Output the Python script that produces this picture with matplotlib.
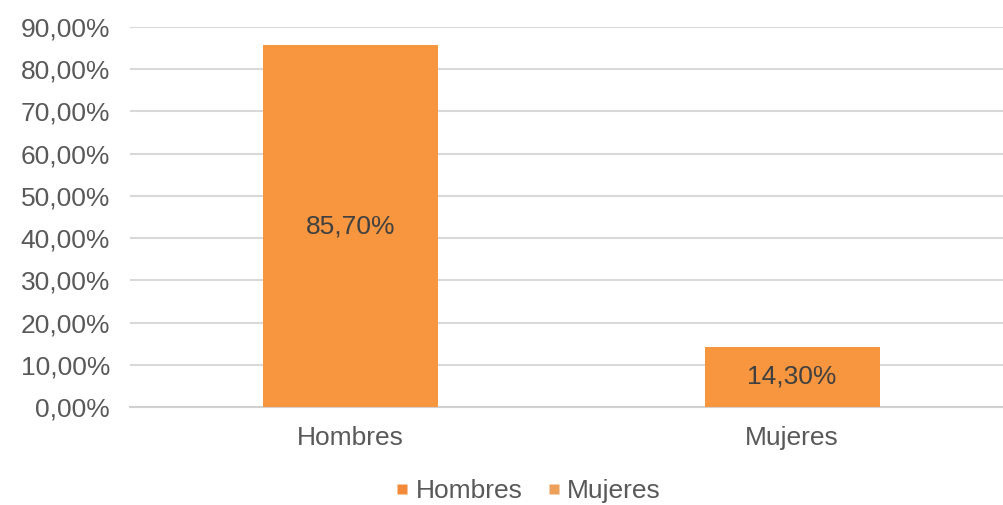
import matplotlib
matplotlib.use("Agg")
import matplotlib.pyplot as plt
from matplotlib.lines import Line2D
from matplotlib.ticker import FuncFormatter

categories = ["Hombres", "Mujeres"]
values = [0.857, 0.143]
labels = ["85,70%", "14,30%"]
yticks = [0.0, 0.1, 0.2, 0.3, 0.4, 0.5, 0.6, 0.7, 0.8, 0.9]

bar_color = "#F7963F"
legend_colors = ["#F28A3A", "#ECA05A"]

plt.rcParams['font.family'] = ['Liberation Sans', 'DejaVu Sans']
FS = 19

fig = plt.figure(figsize=(10.04, 5.05), dpi=100)
ax = fig.add_axes([0.1295, 0.194, 0.8705, 0.7525])

x = list(range(len(categories)))
ax.bar(x, values, width=0.396, color=bar_color, zorder=3)
for xi, v, lab in zip(x, values, labels):
    ax.text(xi, v / 2, lab, ha="center", va="center", fontsize=FS, color="#404040", zorder=4)

ax.set_xlim(-0.5, 1.48)
ax.set_ylim(0, 0.9)
ax.set_yticks(yticks)
ax.yaxis.set_major_formatter(FuncFormatter(lambda v, p: f"{v*100:.2f}%".replace(".", ",")))
ax.set_xticks(x)
ax.set_xticklabels(categories)
ax.tick_params(axis="both", length=0, labelsize=FS, labelcolor="#595959")
ax.tick_params(axis="y", pad=14.5)
ax.tick_params(axis="x", pad=13.5)
ax.grid(axis="y", color="#D9D9D9", linewidth=1.5, zorder=0)
for s in ["top", "right", "left"]:
    ax.spines[s].set_visible(False)
ax.spines["bottom"].set_color("#D0D0D0")
ax.spines["bottom"].set_linewidth(1.5)

handles = [Line2D([], [], linestyle="none", marker="s", markersize=6.5,
                  markerfacecolor=c, markeredgecolor="none") for c in legend_colors]
fig.legend(handles, categories, loc="center", bbox_to_anchor=(0.527, 0.028), ncol=2,
           frameon=False, fontsize=FS, labelcolor="#595959", handlelength=0.4,
           handletextpad=0.3, columnspacing=1.0)

fig.savefig("out.png", dpi=100)
